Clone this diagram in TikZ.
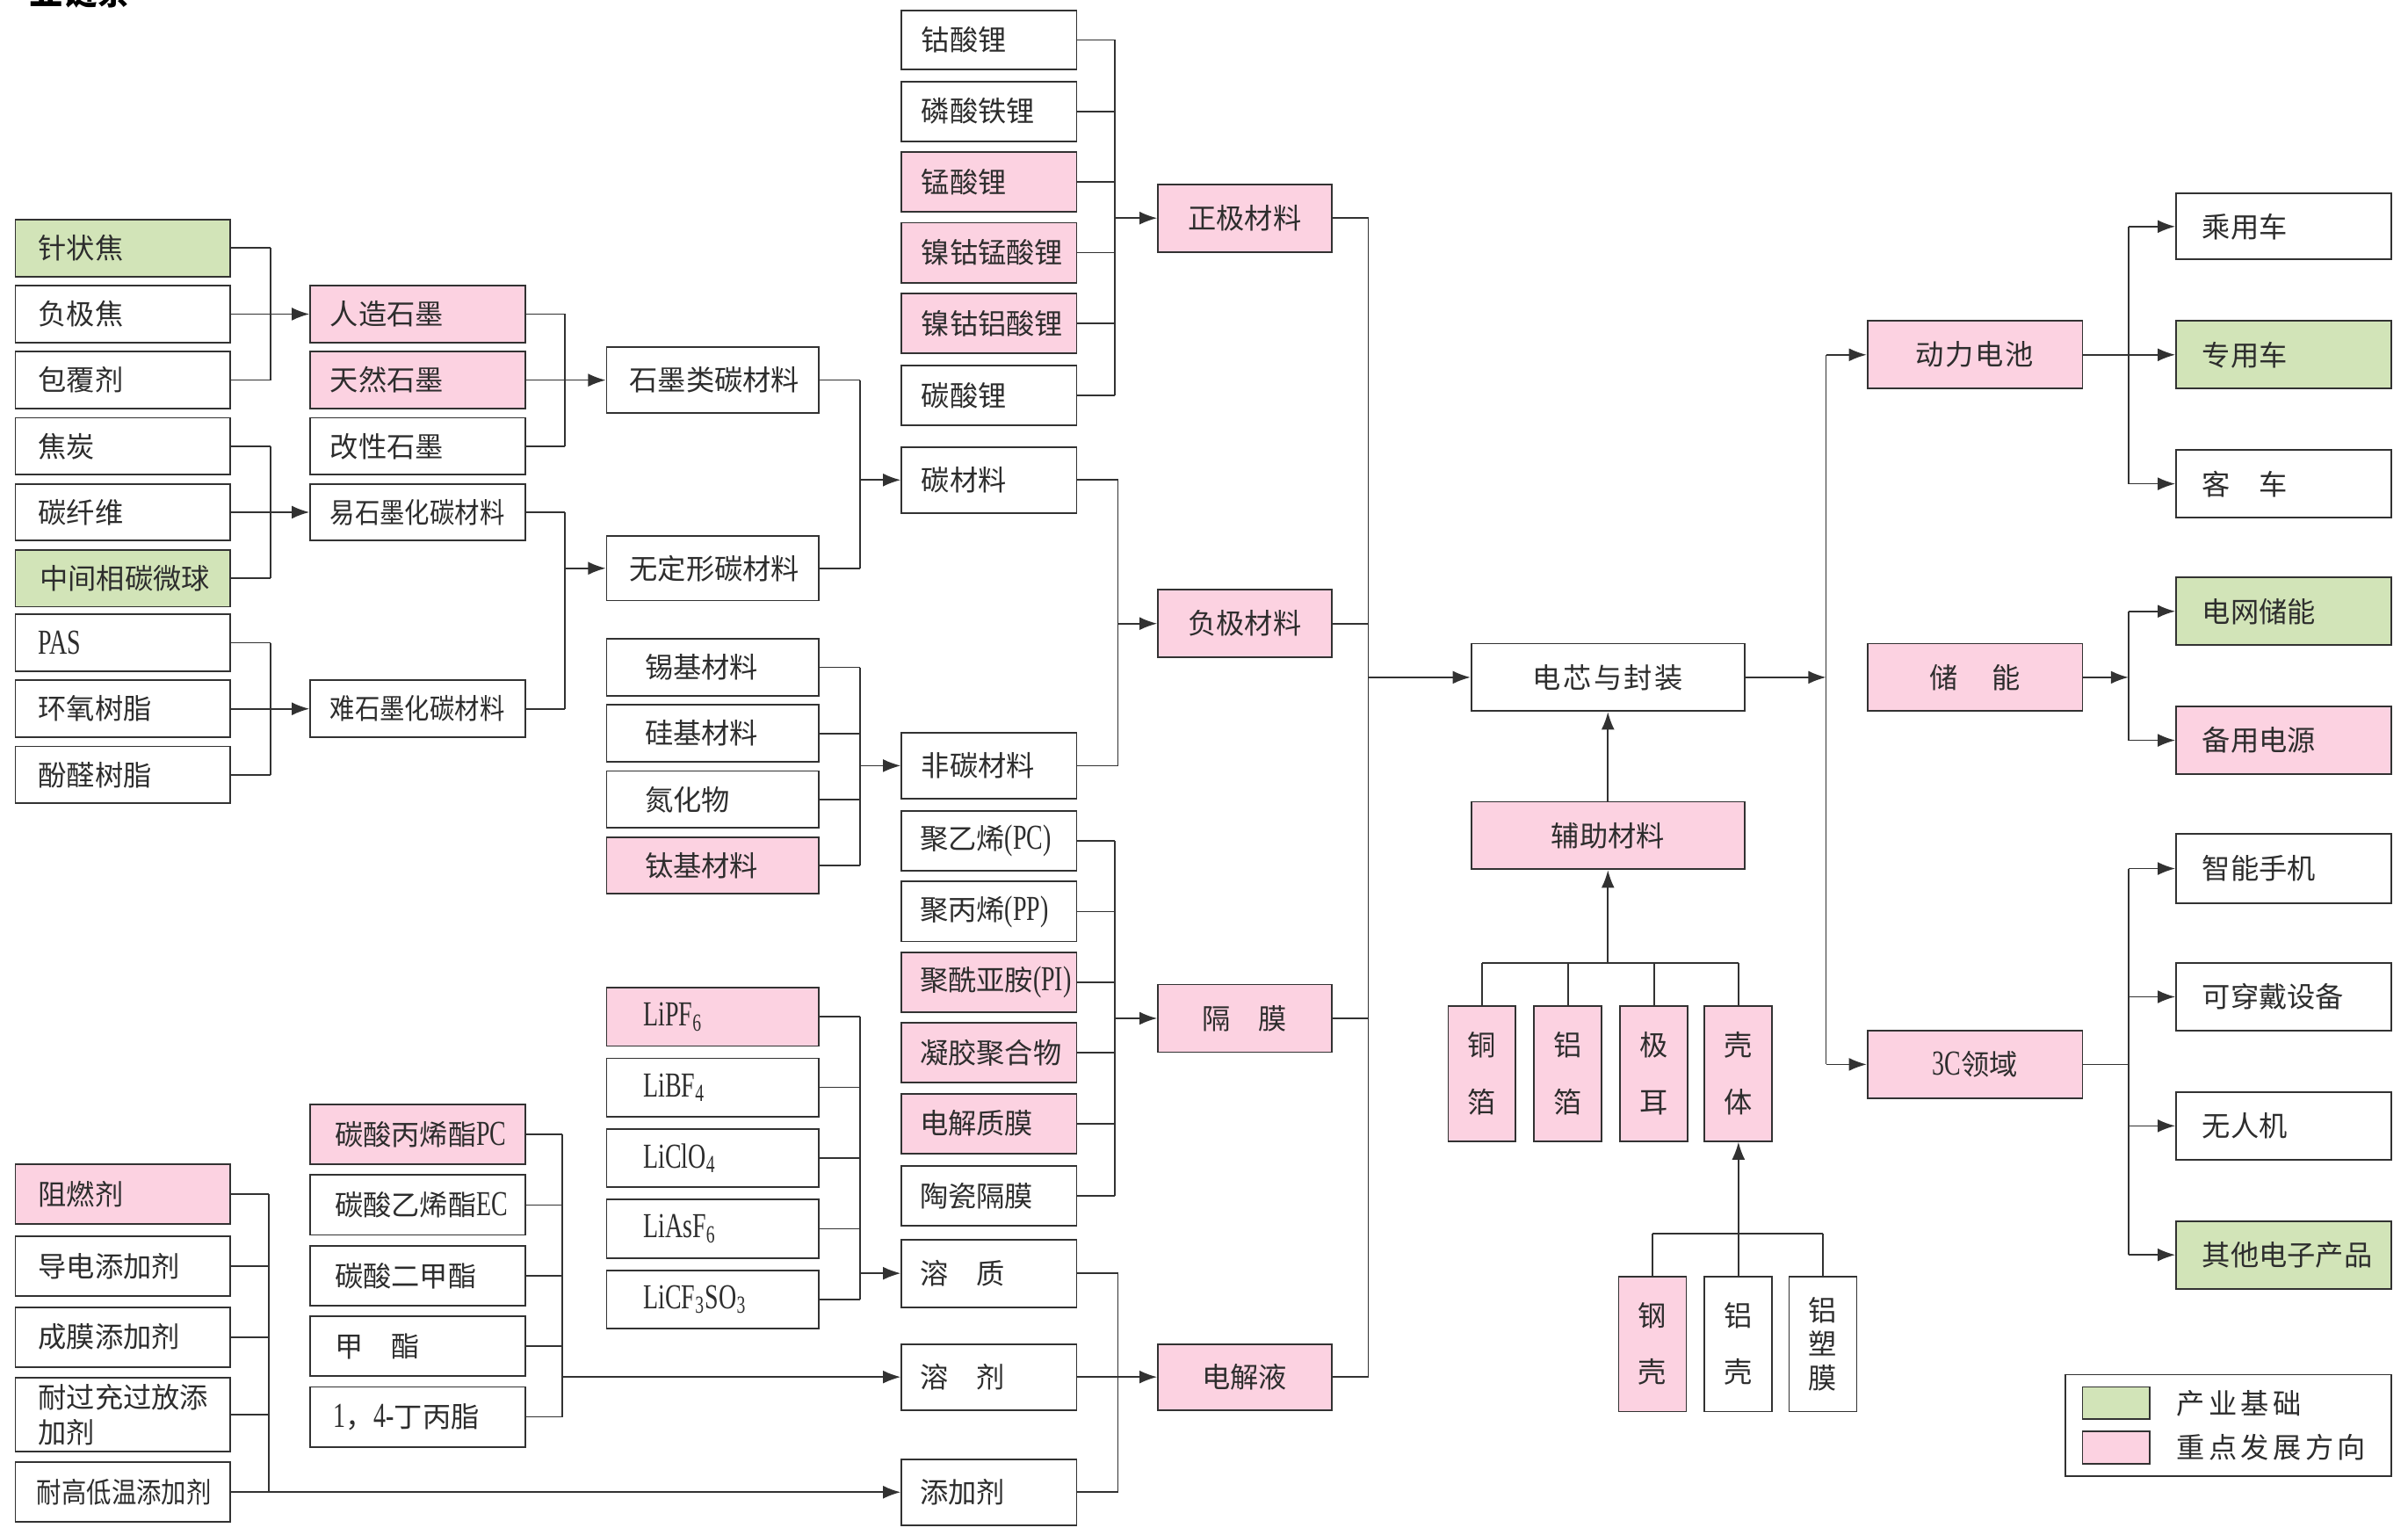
\documentclass[tikz,border=0pt]{standalone}
\usepackage{fontspec}
\setmainfont{Noto Sans CJK SC}
\newfontfamily\latf[FakeStretch=0.7]{Liberation Serif}
\usepackage{graphicx}
\usetikzlibrary{arrows.meta,calc}
\definecolor{gr}{RGB}{210,228,184}
\definecolor{pk}{RGB}{252,210,225}
\definecolor{bd}{RGB}{50,50,50}
\definecolor{tx}{RGB}{45,45,45}
\newcommand\lat[1]{{\latf\fontsize{13pt}{13pt}\selectfont #1}}
\tikzset{
 box/.style={draw=bd, line width=0.6pt, text=tx, font=\fontsize{10.5pt}{13pt}\selectfont},
 ln/.style={draw=bd, line width=0.55pt},
 arr/.style={ln, -{Latex[length=0.23cm,width=0.17cm]}},
}
\newcommand\mybox[8]{%
 \pgfmathsetmacro\myh{(#5-#3)*0.02}%
 \pgfmathsetmacro\mytw{(#4-#2-2*#7)*0.02}%
 \pgfmathsetmacro\myix{#7*0.02}%
 \node[box, fill=#6, minimum height=\myh cm, text width=\mytw cm, inner xsep=\myix cm, inner ysep=0pt, align=left] (#1) at ({(#2+#4)/2},{(#3+#5)/2}) {#8};}
\newcommand\mycbox[7]{%
 \pgfmathsetmacro\myw{(#4-#2)*0.02}%
 \pgfmathsetmacro\myh{(#5-#3)*0.02}%
 \node[box, fill=#6, minimum width=\myw cm, minimum height=\myh cm, inner sep=0pt, align=center] (#1) at ({(#2+#4)/2},{(#3+#5)/2}) {#7};}
\begin{document}
\begin{tikzpicture}[x=0.02cm,y=-0.02cm]
\useasboundingbox (0,0) rectangle (1568,999);
\begin{scope}
\clip (0,0) rectangle (1568,999);
\node[anchor=base west, inner sep=0pt, text=black, font=\fontsize{12.5pt}{13pt}\selectfont\bfseries] (title) at (19,3) {业链条};
\end{scope}
% column A
\mybox{a1}{10}{143}{150}{180}{gr}{15}{针状焦}
\mybox{a2}{10}{186}{150}{223}{white}{15}{负极焦}
\mybox{a3}{10}{229}{150}{266}{white}{15}{包覆剂}
\mybox{a4}{10}{272}{150}{309}{white}{15}{焦炭}
\mybox{a5}{10}{315}{150}{352}{white}{15}{碳纤维}
\mybox{a6}{10}{358}{150}{395}{gr}{16}{中间相碳微球}
\mybox{a7}{10}{400}{150}{437}{white}{15}{\lat{PAS}}
\mybox{a8}{10}{443}{150}{480}{white}{15}{环氧树脂}
\mybox{a9}{10}{486}{150}{523}{white}{15}{酚醛树脂}
% column B
\mybox{b1}{202}{186}{342}{223}{pk}{13}{人造石墨}
\mybox{b2}{202}{229}{342}{266}{pk}{13}{天然石墨}
\mybox{b3}{202}{272}{342}{309}{white}{13}{改性石墨}
\mybox{b4}{202}{315}{342}{352}{white}{13}{\scalebox{0.88}[1]{易石墨化碳材料}}
\mybox{b5}{202}{443}{342}{480}{white}{13}{\scalebox{0.88}[1]{难石墨化碳材料}}
% column C
\mybox{c1}{395}{226}{533}{269}{white}{15}{石墨类碳材料}
\mybox{c2}{395}{349}{533}{391}{white}{15}{无定形碳材料}
\mybox{c3}{395}{416}{533}{453}{white}{25}{锡基材料}
\mybox{c4}{395}{459}{533}{496}{white}{25}{硅基材料}
\mybox{c5}{395}{502}{533}{539}{white}{25}{氮化物}
\mybox{c6}{395}{545}{533}{582}{pk}{25}{钛基材料}
\mybox{c7}{395}{643}{533}{681}{pk}{24}{\lat{LiPF\textsubscript{6}}}
\mybox{c8}{395}{689}{533}{727}{white}{24}{\lat{LiBF\textsubscript{4}}}
\mybox{c9}{395}{735}{533}{773}{white}{24}{\lat{LiClO\textsubscript{4}}}
\mybox{c10}{395}{781}{533}{819}{white}{24}{\lat{LiAsF\textsubscript{6}}}
\mybox{c11}{395}{827}{533}{865}{white}{24}{\lat{LiCF\textsubscript{3}SO\textsubscript{3}}}
% column D
\mybox{d1}{587}{7}{701}{45}{white}{13}{钴酸锂}
\mybox{d2}{587}{53}{701}{92}{white}{13}{磷酸铁锂}
\mybox{d3}{587}{99}{701}{138}{pk}{13}{锰酸锂}
\mybox{d4}{587}{145}{701}{184}{pk}{13}{镍钴锰酸锂}
\mybox{d5}{587}{191}{701}{230}{pk}{13}{镍钴铝酸锂}
\mybox{d6}{587}{238}{701}{277}{white}{13}{碳酸锂}
\mybox{d7}{587}{291}{701}{334}{white}{13}{碳材料}
\mybox{d8}{587}{477}{701}{520}{white}{13}{非碳材料}
\mybox{d9}{587}{528}{701}{567}{white}{12}{聚乙烯\lat{(PC)}}
\mybox{d10}{587}{574}{701}{613}{white}{12}{聚丙烯\lat{(PP)}}
\mybox{d11}{587}{620}{701}{659}{pk}{12}{聚酰亚胺\lat{(PI)}}
\mybox{d12}{587}{666}{701}{705}{pk}{12}{凝胶聚合物}
\mybox{d13}{587}{712}{701}{751}{pk}{12}{电解质膜}
\mybox{d14}{587}{759}{701}{798}{white}{12}{陶瓷隔膜}
\mybox{d15}{587}{807}{701}{851}{white}{12}{溶\quad 质}
\mybox{d16}{587}{875}{701}{918}{white}{12}{溶\quad 剂}
\mybox{d17}{587}{950}{701}{993}{white}{12}{添加剂}
% column E (solvents)
\mybox{e1}{202}{719}{342}{758}{pk}{16}{碳酸丙烯酯\lat{PC}}
\mybox{e2}{202}{765}{342}{804}{white}{16}{碳酸乙烯酯\lat{EC}}
\mybox{e3}{202}{811}{342}{850}{white}{16}{碳酸二甲酯}
\mybox{e4}{202}{857}{342}{896}{white}{16}{甲\quad 酯}
\mybox{e5}{202}{903}{342}{942}{white}{15}{\lat{1}，\lat{4-}丁丙脂}
% column F (additives)
\mybox{f1}{10}{758}{150}{797}{pk}{15}{阻燃剂}
\mybox{f2}{10}{805}{150}{844}{white}{15}{导电添加剂}
\mybox{f3}{10}{851}{150}{890}{white}{15}{成膜添加剂}
\mybox{f4}{10}{897}{150}{945}{white}{15}{耐过充过放添\\加剂}
\mybox{f5}{10}{952}{150}{991}{white}{14}{\scalebox{0.88}[1]{耐高低温添加剂}}
% materials
\mycbox{m1}{754}{120}{867}{164}{pk}{正极材料}
\mycbox{m2}{754}{384}{867}{428}{pk}{负极材料}
\mycbox{m3}{754}{641}{867}{685}{pk}{隔\quad 膜}
\mycbox{m4}{754}{875}{867}{918}{pk}{电解液}
% core
\mycbox{core}{958}{419}{1136}{463}{white}{电\hspace{0.03cm}芯\hspace{0.03cm}与\hspace{0.03cm}封\hspace{0.03cm}装}
\mycbox{aux}{958}{522}{1136}{566}{pk}{辅助材料}
\mycbox{v1}{943}{655}{987}{743}{pk}{铜\\[8pt]箔}
\mycbox{v2}{999}{655}{1043}{743}{pk}{铝\\[8pt]箔}
\mycbox{v3}{1055}{655}{1099}{743}{pk}{极\\[8pt]耳}
\mycbox{v4}{1110}{655}{1154}{743}{pk}{壳\\[8pt]体}
\mycbox{w1}{1054}{831}{1098}{919}{pk}{钢\\[8pt]壳}
\mycbox{w2}{1110}{831}{1154}{919}{white}{铝\\[8pt]壳}
\mycbox{w3}{1165}{831}{1209}{919}{white}{铝\\[-0.5pt]塑\\[-0.5pt]膜}
% applications
\mycbox{p1}{1216}{209}{1356}{253}{pk}{动\hspace{0.02cm}力\hspace{0.02cm}电\hspace{0.02cm}池}
\mycbox{p2}{1216}{419}{1356}{463}{pk}{储\hspace{0.44cm}能}
\mycbox{p3}{1216}{671}{1356}{715}{pk}{\lat{3C}领域}
\mybox{r1}{1417}{126}{1557}{169}{white}{17}{乘用车}
\mybox{r2}{1417}{209}{1557}{253}{gr}{17}{专用车}
\mybox{r3}{1417}{293}{1557}{337}{white}{17}{客\quad 车}
\mybox{r4}{1417}{376}{1557}{420}{gr}{17}{电网储能}
\mybox{r5}{1417}{460}{1557}{504}{pk}{17}{备用电源}
\mybox{r6}{1417}{543}{1557}{588}{white}{17}{智能手机}
\mybox{r7}{1417}{627}{1557}{671}{white}{17}{可穿戴设备}
\mybox{r8}{1417}{711}{1557}{755}{white}{17}{无人机}
\mybox{r9}{1417}{795}{1557}{839}{gr}{17}{其他电子产品}
% legend
\mycbox{leg}{1345}{895}{1557}{961}{white}{}
\mycbox{lg1}{1356}{903}{1400}{924}{gr}{}
\mycbox{lg2}{1356}{932}{1400}{953}{pk}{}
\node[anchor=west, inner sep=0pt, text=tx, font=\fontsize{10.5pt}{13pt}\selectfont] (lt1) at (1417,913.5) {产\hspace{0.05cm}业\hspace{0.05cm}基\hspace{0.05cm}础};
\node[anchor=west, inner sep=0pt, text=tx, font=\fontsize{10.5pt}{13pt}\selectfont] (lt2) at (1417,942.5) {重\hspace{0.05cm}点\hspace{0.05cm}发\hspace{0.05cm}展\hspace{0.05cm}方\hspace{0.05cm}向};
% bar coordinates
\coordinate (xA) at (176,0);
\coordinate (xB) at (368,0);
\coordinate (xC) at (560,0);
\coordinate (xD) at (726,0);
\coordinate (xD2) at (728,0);
\coordinate (xE) at (366,0);
\coordinate (xF) at (175,0);
\coordinate (xM) at (891,0);
\coordinate (xR) at (1189,0);
\coordinate (xS) at (1386,0);
\coordinate (yH) at (0,627);
\coordinate (yK) at (0,803);
% brackets A
\foreach \s in {a1,a2,a3,a4,a5,a6,a7,a8,a9} \draw[ln] (\s.east) -- (\s.east -| xA);
\draw[ln] (a1.east -| xA) -- (a3.east -| xA);
\draw[ln] (a4.east -| xA) -- (a6.east -| xA);
\draw[ln] (a7.east -| xA) -- (a9.east -| xA);
\draw[arr] (a2.east -| xA) -- (b1.west);
\draw[arr] (a5.east -| xA) -- (b4.west);
\draw[arr] (a8.east -| xA) -- (b5.west);
% brackets B
\foreach \s in {b1,b2,b3,b4,b5} \draw[ln] (\s.east) -- (\s.east -| xB);
\draw[ln] (b1.east -| xB) -- (b3.east -| xB);
\draw[ln] (b4.east -| xB) -- (b5.east -| xB);
\draw[arr] (c1.west -| xB) -- (c1.west);
\draw[arr] (c2.west -| xB) -- (c2.west);
% brackets C
\foreach \s in {c1,c2,c3,c4,c5,c6,c7,c8,c9,c10,c11} \draw[ln] (\s.east) -- (\s.east -| xC);
\draw[ln] (c1.east -| xC) -- (c2.east -| xC);
\draw[ln] (c3.east -| xC) -- (c6.east -| xC);
\draw[ln] (c7.east -| xC) -- (c11.east -| xC);
\draw[arr] (d7.west -| xC) -- (d7.west);
\draw[arr] (d8.west -| xC) -- (d8.west);
\draw[arr] (d15.west -| xC) -- (d15.west);
% brackets D
\foreach \s in {d1,d2,d3,d4,d5,d6,d9,d10,d11,d12,d13,d14} \draw[ln] (\s.east) -- (\s.east -| xD);
\foreach \s in {d7,d8,d15,d16,d17} \draw[ln] (\s.east) -- (\s.east -| xD2);
\draw[ln] (d1.east -| xD) -- (d6.east -| xD);
\draw[ln] (d7.east -| xD2) -- (d8.east -| xD2);
\draw[ln] (d9.east -| xD) -- (d14.east -| xD);
\draw[ln] (d15.east -| xD2) -- (d17.east -| xD2);
\draw[arr] (m1.west -| xD) -- (m1.west);
\draw[arr] (m2.west -| xD2) -- (m2.west);
\draw[arr] (m3.west -| xD) -- (m3.west);
\draw[arr] (m4.west -| xD2) -- (m4.west);
% solvents
\foreach \s in {e1,e2,e3,e4,e5} \draw[ln] (\s.east) -- (\s.east -| xE);
\draw[ln] (e1.east -| xE) -- (e5.east -| xE);
\draw[arr] (d16.west -| xE) -- (d16.west);
% additives
\foreach \s in {f1,f2,f3,f4,f5} \draw[ln] (\s.east) -- (\s.east -| xF);
\draw[ln] (f1.east -| xF) -- (f5.east -| xF);
\draw[arr] (f5.east) -- (d17.west);
% materials to core
\foreach \s in {m1,m2,m3,m4} \draw[ln] (\s.east) -- (\s.east -| xM);
\draw[ln] (m1.east -| xM) -- (m4.east -| xM);
\draw[arr] (core.west -| xM) -- (core.west);
% core to applications
\draw[arr] (core.east) -- (core.east -| xR);
\draw[ln] (p1.west -| xR) -- (p3.west -| xR);
\draw[arr] (p1.west -| xR) -- (p1.west);
\draw[arr] (p3.west -| xR) -- (p3.west);
% applications to products
\draw[arr] (p1.east) -- (r2.west);
\draw[ln] (r1.west -| xS) -- (r3.west -| xS);
\draw[arr] (r1.west -| xS) -- (r1.west);
\draw[arr] (r3.west -| xS) -- (r3.west);
\draw[arr] (p2.east) -- (p2.east -| xS);
\draw[ln] (r4.west -| xS) -- (r5.west -| xS);
\draw[arr] (r4.west -| xS) -- (r4.west);
\draw[arr] (r5.west -| xS) -- (r5.west);
\draw[ln] (p3.east) -- (p3.east -| xS);
\draw[ln] (r6.west -| xS) -- (r9.west -| xS);
\foreach \s in {r6,r7,r8,r9} \draw[arr] (\s.west -| xS) -- (\s.west);
% auxiliary
\draw[arr] (aux.north) -- (core.south);
\foreach \s in {v1,v2,v3,v4} \draw[ln] (\s.north) -- (\s.north |- yH);
\draw[ln] (v1.north |- yH) -- (v4.north |- yH);
\draw[arr] (aux.south |- yH) -- (aux.south);
\foreach \s in {w1,w2,w3} \draw[ln] (\s.north) -- (\s.north |- yK);
\draw[ln] (w1.north |- yK) -- (w3.north |- yK);
\draw[arr] (v4.south |- yK) -- (v4.south);
\end{tikzpicture}
\end{document}
